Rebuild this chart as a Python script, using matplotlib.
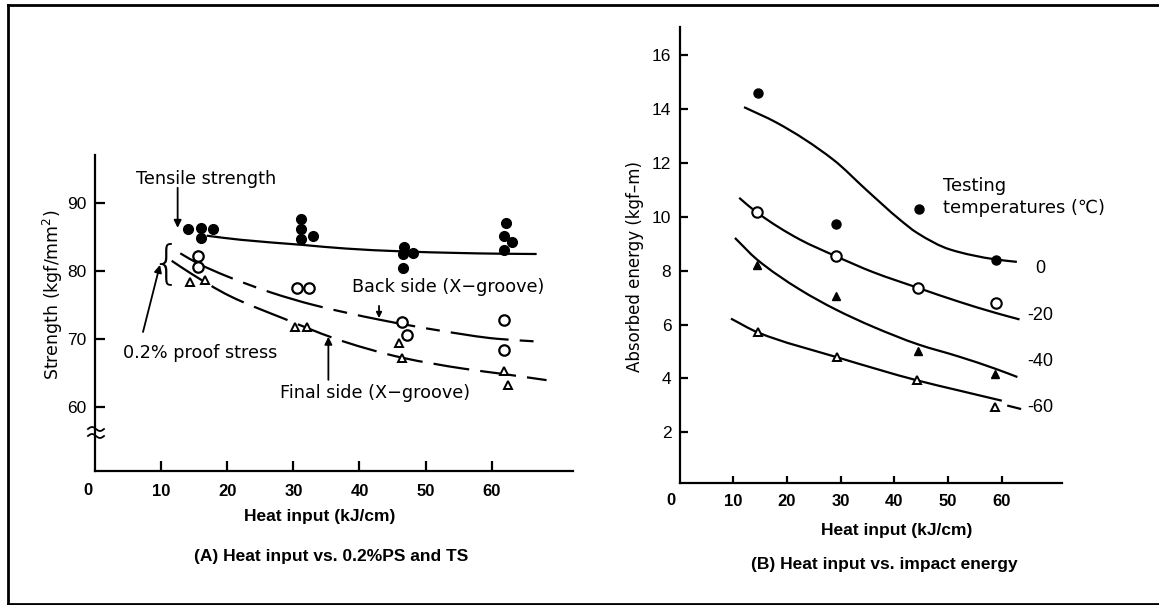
import matplotlib
matplotlib.use("Agg")
import matplotlib.pyplot as plt
from matplotlib.lines import Line2D
from matplotlib.path import Path
from matplotlib.patches import PathPatch
import numpy as np

plt.rcParams['lines.scale_dashes'] = False

# ---------------- Panel A data ----------------
ts_x = [14.1, 16.0, 17.8, 16.1, 31.2, 31.2, 31.2, 32.9, 46.75, 46.6, 48.15, 46.6, 62.1, 61.8, 63.0, 61.8]
ts_y = [86.2, 86.4, 86.2, 84.8, 87.6, 86.2, 84.7, 85.2, 83.6, 82.5, 82.7, 80.5, 87.05, 85.2, 84.3, 83.1]
bs_x = [15.6, 15.6, 30.5, 32.4, 46.4, 47.2, 61.8, 61.8]
bs_y = [82.2, 80.55, 77.55, 77.55, 72.45, 70.5, 72.8, 68.4]
fs_x = [14.4, 16.6, 30.3, 32.0, 46.0, 46.5, 61.8, 62.4]
fs_y = [78.4, 78.7, 71.8, 71.8, 69.35, 67.1, 65.2, 63.2]

ts_curve_x = [16.9, 22.0, 31.3, 38.0, 46.1, 55.0, 60.8, 66.8]
ts_curve_y = [85.2, 84.6, 83.85, 83.3, 82.9, 82.65, 82.55, 82.5]
bs_curve_x = [12.9, 15.6, 20.0, 26.7, 33.0, 43.1, 52.2, 60.8, 66.8]
bs_curve_y = [82.6, 81.1, 79.2, 76.8, 75.0, 72.8, 71.2, 70.0, 69.6]
fs_curve_x = [11.6, 14.4, 20.4, 28.5, 37.6, 46.5, 55.7, 61.8, 68.3]
fs_curve_y = [81.5, 79.7, 76.3, 73.0, 69.6, 67.2, 65.6, 64.8, 63.9]

a_xticks = [10, 20, 30, 40, 50, 60]
a_yticks = [60, 70, 80, 90]

# ---------------- Panel B data ----------------
t0_x = [14.66, 29.07, 44.64, 58.92]
t0_y = [14.61, 9.72, 10.30, 8.39]
t20_x = [14.36, 29.13, 44.45, 58.92]
t20_y = [10.17, 8.54, 7.36, 6.81]
t40_x = [14.36, 29.07, 44.45, 58.7]
t40_y = [8.23, 7.05, 5.03, 4.18]
t60_x = [14.54, 29.37, 44.15, 58.73]
t60_y = [5.71, 4.78, 3.93, 2.94]

c0_x = [12.0, 18.1, 28.6, 34.8, 41.0, 44.2, 50.35, 58.9, 62.8]
c0_y = [14.08, 13.5, 12.13, 11.0, 9.9, 9.41, 8.79, 8.42, 8.33]
c20_x = [11.1, 14.36, 22.4, 29.1, 36.0, 44.45, 52.0, 58.9, 63.3]
c20_y = [10.71, 10.17, 9.16, 8.54, 7.95, 7.36, 6.85, 6.43, 6.19]
c40_x = [10.3, 14.4, 22.4, 29.07, 36.0, 44.45, 52.0, 58.9, 62.9]
c40_y = [9.22, 8.42, 7.30, 6.56, 5.92, 5.26, 4.81, 4.35, 4.05]
c60_x = [9.57, 14.54, 29.4, 44.15, 52.0, 60.0]
c60_y = [6.22, 5.71, 4.78, 3.93, 3.55, 3.17]
c60_tail_x = [61.2, 63.4]
c60_tail_y = [2.98, 2.87]

b_xticks = [10, 20, 30, 40, 50, 60]
b_yticks = [2, 4, 6, 8, 10, 12, 14, 16]
temp_labels = ["0", "-20", "-40", "-60"]
temp_label_y = [8.07, 6.33, 4.64, 2.93]

W, H = 1159, 605
fig = plt.figure(figsize=(W / 100, H / 100), dpi=100)

NARROW = ['Liberation Sans Narrow', 'Liberation Sans', 'DejaVu Sans']
BOLD = ['Liberation Sans', 'DejaVu Sans']
TXT = ['DejaVu Sans', 'Noto Sans CJK JP']


def px_rect(x0, y_bottom, x1, y_top):
    return [x0 / W, 1 - y_bottom / H, (x1 - x0) / W, (y_bottom - y_top) / H]


def smooth_curve(ax, xs, ys, **kw):
    """Draw a smooth monotone curve through the read nodes (cubic Hermite as Bezier path)."""
    x = np.asarray(xs, float)
    y = np.asarray(ys, float)
    n = len(x)
    h = np.diff(x)
    d = np.diff(y) / h
    m = np.zeros(n)
    m[0], m[-1] = d[0], d[-1]
    for i in range(1, n - 1):
        if d[i - 1] * d[i] <= 0:
            m[i] = 0.0
        else:
            w1 = 2 * h[i] + h[i - 1]
            w2 = h[i] + 2 * h[i - 1]
            m[i] = (w1 + w2) / (w1 / d[i - 1] + w2 / d[i])
    verts = [(x[0], y[0])]
    codes = [Path.MOVETO]
    for i in range(n - 1):
        verts += [(x[i] + h[i] / 3, y[i] + m[i] * h[i] / 3),
                  (x[i + 1] - h[i] / 3, y[i + 1] - m[i + 1] * h[i] / 3),
                  (x[i + 1], y[i + 1])]
        codes += [Path.CURVE4] * 3
    patch = PathPatch(Path(verts, codes), fill=False, edgecolor='k', **kw)
    ax.add_patch(patch)
    return patch


# ================= Panel A =================
axA = fig.add_axes(px_rect(95, 471, 573, 155))
axA.set_xlim(0, 72.3)
axA.set_ylim(50.5, 97.1)
for s in ['top', 'right']:
    axA.spines[s].set_visible(False)
for s in ['left', 'bottom']:
    axA.spines[s].set_linewidth(1.6)
axA.set_xticks(a_xticks)
axA.set_yticks(a_yticks)
axA.tick_params(axis='x', direction='in', length=7, width=1.6, pad=9)
axA.tick_params(axis='y', direction='in', length=7, width=1.6, pad=6)
for lab in axA.get_xticklabels():
    lab.set_fontfamily(BOLD); lab.set_fontweight('bold'); lab.set_fontsize(12)
for lab in axA.get_yticklabels():
    lab.set_fontfamily(NARROW); lab.set_fontsize(12.5)
axA.annotate("0", xy=(0, 0), xycoords='axes fraction', xytext=(-5, -14),
             textcoords='offset points', ha='center', va='center',
             fontfamily=BOLD, fontweight='bold', fontsize=12)

smooth_curve(axA, ts_curve_x, ts_curve_y, lw=1.6)
smooth_curve(axA, bs_curve_x, bs_curve_y, lw=1.6, linestyle=(0, (42, 8, 10, 8)))
smooth_curve(axA, fs_curve_x, fs_curve_y, lw=1.6, linestyle=(0, (26, 8)))
axA.plot(ts_x, ts_y, 'o', color='k', ms=7, zorder=5)
axA.plot(bs_x, bs_y, 'o', mfc='white', mec='k', mew=1.6, ms=7.5, zorder=5)
axA.plot(fs_x, fs_y, '^', mfc='white', mec='k', mew=1.4, ms=6, zorder=5)

FS_ANN = 12.7
axA.text(6.2, 93.6, "Tensile strength", fontsize=FS_ANN, fontfamily=TXT, ha='left', va='center')
axA.text(4.24, 67.9, "0.2% proof stress", fontsize=FS_ANN, fontfamily=TXT, ha='left', va='center')
axA.text(38.9, 77.64, "Back side (X\u2212groove)", fontsize=FS_ANN, fontfamily=TXT, ha='left', va='center')
axA.text(28.0, 62.0, "Final side (X\u2212groove)", fontsize=FS_ANN, fontfamily=TXT, ha='left', va='center')
axA.text(10.74, 81.0, "{", fontsize=33, fontfamily=TXT, ha='center', va='center', fontweight='light')

arrow = dict(arrowstyle='-|>', color='k', lw=1.3, mutation_scale=11, shrinkA=0, shrinkB=0)
axA.annotate("", xy=(12.5, 86.36), xytext=(12.5, 92.26), arrowprops=arrow)
axA.annotate("", xy=(9.83, 80.9), xytext=(7.26, 71.0), arrowprops=arrow)
axA.annotate("", xy=(42.96, 73.04), xytext=(42.96, 74.85), arrowprops=dict(arrow, mutation_scale=8))
axA.annotate("", xy=(35.3, 70.3), xytext=(35.3, 63.94), arrowprops=arrow)

axA.set_ylabel("Strength (kgf/mm$^2$)", fontsize=12.5, fontfamily=TXT)
axA.yaxis.set_label_coords(-0.062, 0.557)

# axis break marks on A's y-axis
tt = np.linspace(-1, 1, 20)
for ypx in (429, 436):
    xs = 96 + 8 * tt
    ys = ypx + 2.0 * np.sin(np.pi * tt)
    fig.add_artist(Line2D(xs / W, 1 - ys / H, color='k', lw=1.3, transform=fig.transFigure))

fig.text(320 / W, 1 - 517 / H, "Heat input (kJ/cm)", ha='center', va='center',
         fontfamily=BOLD, fontweight='bold', fontsize=12.5)
fig.text(331 / W, 1 - 556 / H, "(A) Heat input vs. 0.2%PS and TS", ha='center', va='center',
         fontfamily=BOLD, fontweight='bold', fontsize=12.5)

# ================= Panel B =================
axB = fig.add_axes(px_rect(679.6, 483.3, 1061.7, 26.7))
axB.set_xlim(0, 71.15)
axB.set_ylim(0.1, 17.07)
for s in ['top', 'right']:
    axB.spines[s].set_visible(False)
for s in ['left', 'bottom']:
    axB.spines[s].set_linewidth(1.6)
axB.set_xticks(b_xticks)
axB.set_yticks(b_yticks)
axB.tick_params(axis='x', direction='in', length=5, width=1.6, pad=8)
axB.tick_params(axis='y', direction='in', length=6, width=1.6, pad=6)
for lab in axB.get_xticklabels():
    lab.set_fontfamily(BOLD); lab.set_fontweight('bold'); lab.set_fontsize(12)
for lab in axB.get_yticklabels():
    lab.set_fontfamily(NARROW); lab.set_fontsize(12.5)
axB.annotate("0", xy=(0, 0), xycoords='axes fraction', xytext=(-6, -12.5),
             textcoords='offset points', ha='center', va='center',
             fontfamily=BOLD, fontweight='bold', fontsize=12)

for cx, cy in ((c0_x, c0_y), (c20_x, c20_y), (c40_x, c40_y), (c60_x, c60_y)):
    smooth_curve(axB, cx, cy, lw=1.6)
axB.plot(c60_tail_x, c60_tail_y, color='k', lw=1.6)
axB.plot(t0_x, t0_y, 'o', color='k', ms=6.5, zorder=5)
axB.plot(t20_x, t20_y, 'o', mfc='white', mec='k', mew=1.5, ms=7.5, zorder=5)
axB.plot(t40_x, t40_y, '^', color='k', ms=6, zorder=5)
axB.plot(t60_x, t60_y, '^', mfc='white', mec='k', mew=1.4, ms=6, zorder=5)

for lab, yv in zip(temp_labels, temp_label_y):
    axB.text(67.1, yv, lab, ha='center', va='center', fontfamily=NARROW, fontsize=13)
axB.text(49.05, 11.14, "Testing", ha='left', va='center', fontfamily=TXT, fontsize=12.9)
axB.text(49.05, 10.34, "temperatures (\u2103)", ha='left', va='center', fontfamily=TXT, fontsize=12.9)

axB.set_ylabel("Absorbed energy (kgf\u2013m)", fontsize=12, fontfamily=TXT)
axB.yaxis.set_label_coords(-0.093, 0.474)

fig.text(897 / W, 1 - 531 / H, "Heat input (kJ/cm)", ha='center', va='center',
         fontfamily=BOLD, fontweight='bold', fontsize=12.5)
fig.text(884 / W, 1 - 565 / H, "(B) Heat input vs. impact energy", ha='center', va='center',
         fontfamily=BOLD, fontweight='bold', fontsize=12.5)

# outer frame
fig.add_artist(Line2D([8 / W, 8 / W], [1 - 5 / H, 1 - 604 / H], color='k', lw=2, transform=fig.transFigure))
fig.add_artist(Line2D([8 / W, 1], [1 - 5 / H, 1 - 5 / H], color='k', lw=2, transform=fig.transFigure))
fig.add_artist(Line2D([8 / W, 1], [1 - 604 / H, 1 - 604 / H], color='k', lw=2, transform=fig.transFigure))

fig.savefig("out.png", dpi=100, facecolor='white')
